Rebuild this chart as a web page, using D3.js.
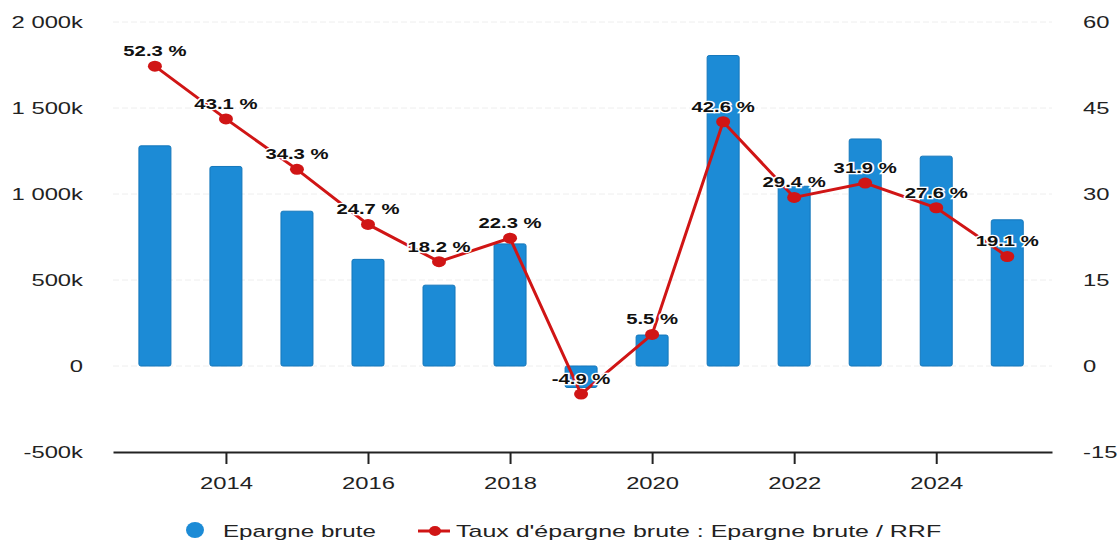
<!DOCTYPE html>
<html><head><meta charset="utf-8">
<script src="https://cdn.jsdelivr.net/npm/d3@7"></script>
<style>body{margin:0;background:#fff;font-family:"Liberation Sans",Arial,sans-serif;}</style>
</head><body><svg id="c" width="1119" height="544"></svg>
<script>
const years = [2013,2014,2015,2016,2017,2018,2019,2020,2021,2022,2023,2024,2025];
const epargne = [1280,1160,900,620,470,710,-125,180,1805,1045,1320,1220,850]; // k€
const taux = [52.3,43.1,34.3,24.7,18.2,22.3,-4.9,5.5,42.6,29.4,31.9,27.6,19.1];
const leftTicks = [-500,0,500,1000,1500,2000];
const rightTicks = [-15,0,15,30,45,60];
const xTicks = [2014,2016,2018,2020,2022,2024];
const seriesNames = ["Epargne brute","Taux d'épargne brute : Epargne brute / RRF"];

const FONT = "Liberation Sans, Arial, sans-serif";
const SX = 1.4; // horizontal stretch of the reference text
const svg = d3.select("#c");
const x0 = 113, x1 = 1052, yTop = 22, yBot = 452;
const x = d3.scaleLinear().domain([2012.41, 2025.63]).range([x0, x1]);
const yL = d3.scaleLinear().domain([-500, 2000]).range([yBot, yTop]);
const yR = d3.scaleLinear().domain([-15, 60]).range([yBot, yTop]);
const blue = "#1c8bd6", red = "#d01515";

// grid
svg.append("g").selectAll("line").data(leftTicks.filter(t => t > -500)).join("line")
  .attr("x1", x0).attr("x2", x1).attr("y1", d => yL(d)).attr("y2", d => yL(d))
  .attr("stroke", "#eeeeee").attr("stroke-width", 1).attr("stroke-dasharray", "6,3");

// left axis
const gL = svg.append("g").attr("transform", `translate(83,0)`)
  .call(d3.axisLeft(yL).tickValues(leftTicks).tickSize(0).tickPadding(0).tickFormat(d => {
    if (d === 0) return "0";
    return d3.format(",")(d).replace(/,/g, " ").replace("−", "-") + "k";
  }));
gL.select(".domain").remove();
gL.selectAll("text").attr("font-size", 17).attr("fill", "#222").attr("font-family", FONT)
  .attr("transform", `scale(${SX},1)`);

// right axis
const gR = svg.append("g").attr("transform", `translate(1083,0)`)
  .call(d3.axisRight(yR).tickValues(rightTicks).tickSize(0).tickPadding(0).tickFormat(d => String(d)));
gR.select(".domain").remove();
gR.selectAll("text").attr("font-size", 17).attr("fill", "#222").attr("font-family", FONT)
  .attr("transform", `scale(${SX},1)`);

// bars
const bw = 32;
svg.append("g").selectAll("rect").data(years).join("rect")
  .attr("x", (d) => x(d) - bw / 2).attr("width", bw)
  .attr("y", (d, i) => yL(Math.max(0, epargne[i])))
  .attr("height", (d, i) => Math.abs(yL(epargne[i]) - yL(0)))
  .attr("rx", 2).attr("fill", blue).attr("stroke", "#1477bb").attr("stroke-width", 1);

// x axis
const gX = svg.append("g").attr("transform", `translate(0,${yBot})`)
  .call(d3.axisBottom(x).tickValues(xTicks).tickFormat(d3.format("d")).tickSize(12).tickSizeOuter(0).tickPadding(13));
gX.select(".domain").attr("stroke", "#222").attr("stroke-width", 2);
gX.selectAll(".tick line").attr("stroke", "#222").attr("stroke-width", 2);
gX.selectAll("text").attr("font-size", 17).attr("fill", "#222").attr("font-family", FONT)
  .attr("transform", `scale(${SX},1)`);

// line
const line = d3.line().x((d, i) => x(years[i])).y(d => yR(d));
svg.append("path").datum(taux).attr("d", line).attr("fill", "none")
  .attr("stroke", red).attr("stroke-width", 3);
svg.append("g").selectAll("ellipse").data(taux).join("ellipse")
  .attr("cx", (d, i) => x(years[i])).attr("cy", d => yR(d)).attr("rx", 7).attr("ry", 5.5).attr("fill", red);

// labels
svg.append("g").selectAll("text").data(taux).join("text")
  .attr("transform", (d, i) => `translate(${x(years[i])},${yR(d) - 10}) scale(${SX},1)`)
  .attr("text-anchor", "middle").attr("font-size", 14.5).attr("font-weight", "bold")
  .attr("font-family", FONT)
  .attr("fill", "#111").attr("stroke", "#fff").attr("stroke-width", 2.5).attr("paint-order", "stroke")
  .text(d => d + " %");

// legend
const lg = svg.append("g");
lg.append("ellipse").attr("cx", 195).attr("cy", 530).attr("rx", 9).attr("ry", 8).attr("fill", blue);
lg.append("text").attr("transform", `translate(223,537) scale(1.42,1)`).attr("font-size", 17)
  .attr("font-family", FONT).attr("fill", "#222").text(seriesNames[0]);
lg.append("line").attr("x1", 418).attr("x2", 450).attr("y1", 531).attr("y2", 531).attr("stroke", red).attr("stroke-width", 3);
lg.append("ellipse").attr("cx", 435).attr("cy", 531).attr("rx", 6).attr("ry", 5).attr("fill", red);
lg.append("text").attr("transform", `translate(456,537) scale(1.47,1)`).attr("font-size", 17)
  .attr("font-family", FONT).attr("fill", "#222").text(seriesNames[1]);
</script></body></html>
